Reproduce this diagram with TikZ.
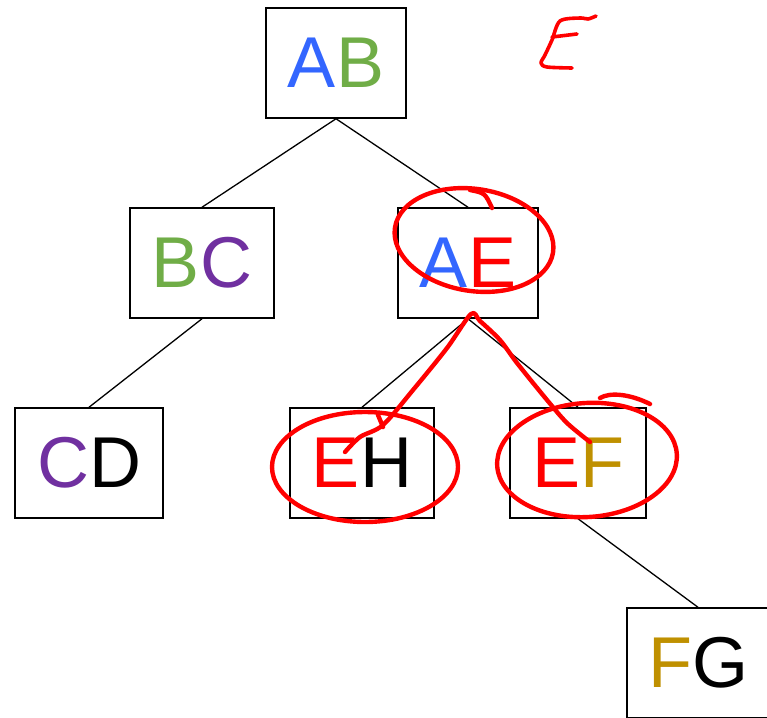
\documentclass[tikz,border=0pt]{standalone}
\usepackage{fontspec}
\setmainfont{Liberation Sans}
\definecolor{cblue}{RGB}{51,102,255}
\definecolor{cgreen}{RGB}{112,173,71}
\definecolor{cpurple}{RGB}{112,48,160}
\definecolor{cgold}{RGB}{191,144,0}
\definecolor{cred}{RGB}{255,0,0}
\begin{document}
\begin{tikzpicture}[x=1pt,y=-1pt,
  treebox/.style={draw=black,line width=1.5pt,rectangle,inner sep=0pt,
    minimum height=110pt,font=\fontsize{72}{80}\selectfont},
  treeline/.style={black,line width=1.3pt},
  pen/.style={cred,line width=4.4pt,line cap=round,line join=round}]
\useasboundingbox (0,0) rectangle (767,717);
\node[treebox,minimum width=140pt] (AB) at (336,63) {{\color{cblue}A}{\color{cgreen}B}};
\node[treebox,minimum width=144pt] (BC) at (202,263) {{\color{cgreen}B}{\color{cpurple}C}};
\node[treebox,minimum width=140pt] (AE) at (468,263) {{\color{cblue}A}{\color{cred}E}};
\node[treebox,minimum width=148pt] (CD) at (89,463) {{\color{cpurple}C}D};
\node[treebox,minimum width=144pt] (EH) at (362,463) {{\color{cred}E}H};
\node[treebox,minimum width=136pt] (EF) at (578,463) {{\color{cred}E}{\color{cgold}F}};
\node[treebox,minimum width=142pt] (FG) at (698,663) {{\color{cgold}F}G};
\draw[treeline] (AB.south) -- (BC.north);
\draw[treeline] (AB.south) -- (AE.north);
\draw[treeline] (BC.south) -- (CD.north);
\draw[treeline] (AE.south) -- (EH.north);
\draw[treeline] (AE.south) -- (EF.north);
\draw[treeline] (EF.south) -- (FG.north);
% handwritten E
\draw[pen,line width=3.6pt] plot[smooth] coordinates {(596,16) (588,19) (580,18) (560,21) (552,40) (545,55) (541,63) (547,67) (572,68)};
\draw[pen,line width=3.6pt] (552,37) -- (577,34);
% ellipses
\draw[pen,rotate around={-9:(474,240)}] (474,240) ellipse [x radius=80, y radius=51];
\draw[pen] (470,190) .. controls (485,193) .. (492,208);
\draw[pen] (365,467) ellipse [x radius=93, y radius=55];
\draw[pen] (378,415) -- (383,427);
\draw[pen,rotate around={4:(587,460)}] (587,460) ellipse [x radius=90, y radius=57];
\draw[pen] (600,398) .. controls (610,392) and (630,394) .. (650,404);
% connecting stroke
\draw[pen] plot[smooth] coordinates {(345,452) (360,437) (383,425) (413,390) (447,348) (471,314) (480,321) (500,340) (517,363) (547,400) (567,423) (590,442)};
\end{tikzpicture}
\end{document}
